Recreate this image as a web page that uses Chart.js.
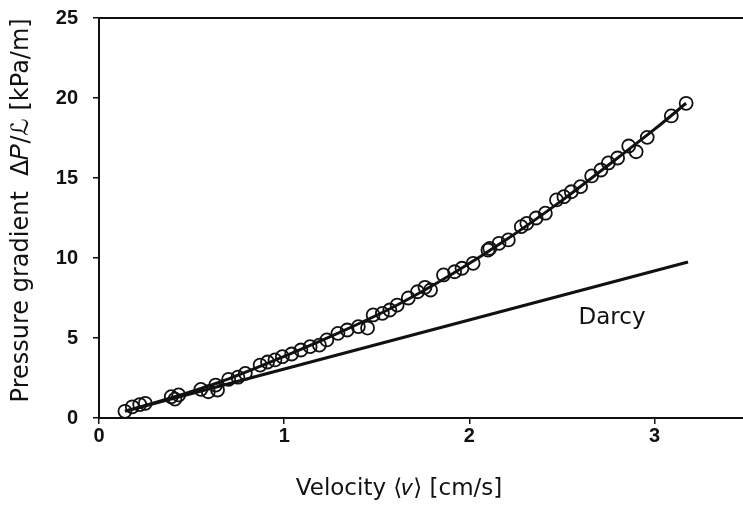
<!DOCTYPE html>
<html>
<head>
<meta charset="utf-8">
<script src="https://cdn.jsdelivr.net/npm/chart.js@4/dist/chart.umd.min.js"></script>
<style>
  html, body { margin: 0; padding: 0; background: #fff; }
  #wrap { width: 743px; height: 511px; }
</style>
</head>
<body>
<div id="wrap"><canvas id="grafico" width="743" height="511"></canvas></div>
<script>
// medidas (velocidade em cm/s, gradiente em kPa/m)
const velocidade = [0.14, 0.18, 0.22, 0.25, 0.39, 0.41, 0.43, 0.55, 0.59, 0.63, 0.64, 0.70, 0.75, 0.79,
  0.87, 0.91, 0.95, 0.99, 1.04, 1.09, 1.14, 1.19, 1.23, 1.29, 1.34, 1.40, 1.45, 1.48, 1.53, 1.57, 1.61,
  1.67, 1.72, 1.76, 1.79, 1.86, 1.92, 1.96, 2.02, 2.10, 2.11, 2.16, 2.21, 2.28, 2.31, 2.36, 2.41,
  2.47, 2.51, 2.55, 2.60, 2.66, 2.71, 2.75, 2.80, 2.86, 2.90, 2.96, 3.09, 3.17];
const gradiente = [0.42, 0.70, 0.84, 0.92, 1.33, 1.18, 1.44, 1.79, 1.64, 2.06, 1.75, 2.42, 2.55, 2.79,
  3.31, 3.50, 3.63, 3.83, 4.00, 4.25, 4.46, 4.56, 4.88, 5.29, 5.50, 5.71, 5.62, 6.44, 6.54, 6.75, 7.06,
  7.50, 7.89, 8.17, 8.00, 8.94, 9.14, 9.36, 9.67, 10.50, 10.60, 10.92, 11.13, 11.96, 12.17, 12.50, 12.80,
  13.63, 13.83, 14.14, 14.46, 15.13, 15.50, 15.94, 16.25, 17.00, 16.64, 17.54, 18.88, 19.67];

// curva ajustada
const ajusteV = [0.14, 0.40, 0.70, 1.00, 1.30, 1.60, 1.90, 2.20, 2.50, 2.80, 3.00, 3.17];
const ajusteP = [0.42, 1.30, 2.45, 3.85, 5.35, 7.00, 8.95, 11.15, 13.60, 16.25, 18.05, 19.67];

// reta de Darcy
const darcyV = [0.15, 3.18];
const darcyP = [0.45, 9.75];

const ticksX = [0, 1, 2, 3];
const ticksY = [0, 5, 10, 15, 20, 25];

const pares = (xs, ys) => xs.map((x, i) => ({ x: x, y: ys[i] }));

const fonteTicks = { family: "'Liberation Sans', Arial, sans-serif", size: 20, weight: "bold" };
const fonteTitulo = { family: "'DejaVu Sans', sans-serif", size: 23 };

// escreve "Darcy" junto da reta
const rotuloDarcy = {
  id: "rotuloDarcy",
  afterDatasetsDraw(chart) {
    const { ctx, scales } = chart;
    ctx.save();
    ctx.font = "23px 'DejaVu Sans', sans-serif";
    ctx.fillStyle = "#111";
    ctx.textAlign = "center";
    ctx.textBaseline = "middle";
    ctx.fillText("Darcy", scales.x.getPixelForValue(2.77), scales.y.getPixelForValue(6.25));
    ctx.restore();
  }
};

// tira o espaço extra que o Chart.js reserva para os rótulos
const semPadding = s => { s.paddingLeft = 0; s.paddingRight = 0; s.paddingTop = 0; s.paddingBottom = 0; };

const ctx = document.getElementById("grafico").getContext("2d");
new Chart(ctx, {
  type: "scatter",
  data: {
    datasets: [
      {
        label: "medidas",
        data: pares(velocidade, gradiente),
        showLine: false,
        pointStyle: "circle",
        pointRadius: 6.5,
        pointBorderWidth: 1.8,
        pointBorderColor: "#111",
        pointBackgroundColor: "rgba(0,0,0,0)"
      },
      {
        label: "ajuste",
        data: pares(ajusteV, ajusteP),
        showLine: true,
        borderColor: "#111",
        borderWidth: 3,
        pointRadius: 0,
        cubicInterpolationMode: "monotone"
      },
      {
        label: "Darcy",
        data: pares(darcyV, darcyP),
        showLine: true,
        borderColor: "#111",
        borderWidth: 3.2,
        pointRadius: 0
      }
    ]
  },
  options: {
    responsive: false,
    animation: false,
    layout: { padding: 0, autoPadding: false },
    plugins: { legend: { display: false }, tooltip: { enabled: false } },
    scales: {
      x: {
        type: "linear",
        min: 0,
        max: 3.477,
        afterFit: s => { s.height = 93; semPadding(s); },
        afterBuildTicks: s => { s.ticks = ticksX.map(v => ({ value: v })); },
        ticks: { color: "#111", font: fonteTicks, padding: 0, maxRotation: 0 },
        grid: { drawOnChartArea: false, drawTicks: true, tickLength: 6, color: "#111", lineWidth: 1.5 },
        border: { display: true, color: "#111", width: 2 },
        title: { display: true, text: "Velocity ⟨𝑣⟩ [cm/s]      ", color: "#111", font: fonteTitulo, padding: { top: 0, bottom: 8 } }
      },
      topo: {
        type: "linear",
        position: "top",
        min: 0,
        max: 3.477,
        afterFit: s => { s.height = 18; semPadding(s); },
        ticks: { display: false },
        grid: { drawOnChartArea: false, drawTicks: false },
        border: { display: true, color: "#111", width: 2 }
      },
      y: {
        type: "linear",
        min: 0,
        max: 25,
        afterFit: s => { s.width = 99; semPadding(s); },
        afterBuildTicks: s => { s.ticks = ticksY.map(v => ({ value: v })); },
        ticks: { color: "#111", font: fonteTicks, padding: 15 },
        grid: { drawOnChartArea: false, drawTicks: true, tickLength: 6, color: "#111", lineWidth: 1.5 },
        border: { display: true, color: "#111", width: 2 },
        title: { display: true, text: "  Pressure gradient  Δ𝑃/ℒ [kPa/m]", color: "#111", font: { family: "'DejaVu Sans', sans-serif", size: 24 }, padding: { top: 7, bottom: 0 } }
      }
    }
  },
  plugins: [rotuloDarcy]
});
</script>
</body>
</html>
